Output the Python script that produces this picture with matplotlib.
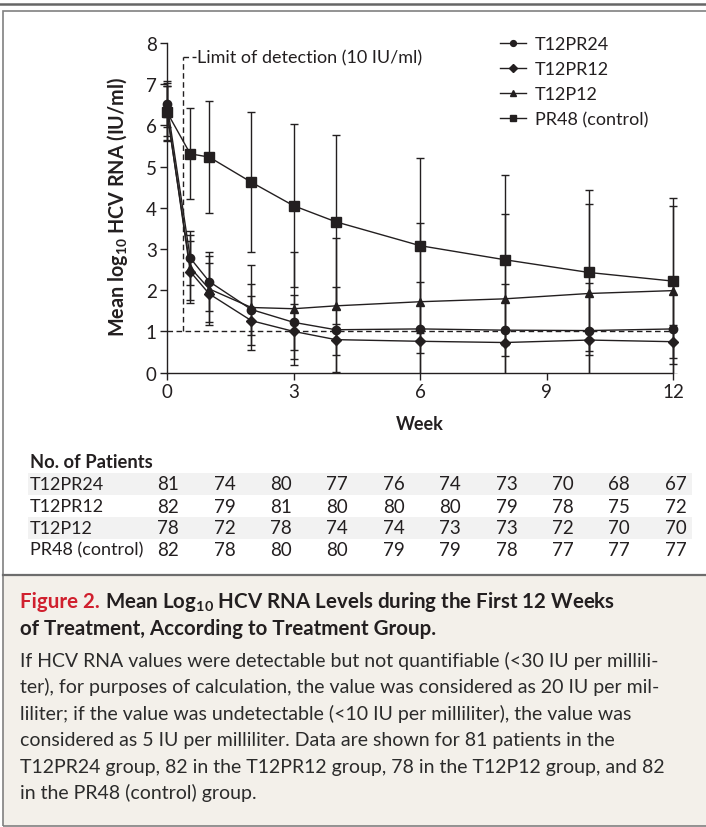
import matplotlib
matplotlib.use("Agg")
import matplotlib.pyplot as plt
from matplotlib.lines import Line2D
from matplotlib.patches import Rectangle
import numpy as np

# ---------------- data ----------------
weeks = [0, 0.55, 1, 2, 3, 4, 6, 8, 10, 12]
groups = ["T12PR24", "T12PR12", "T12P12", "PR48 (control)"]
markers = ["o", "D", "^", "s"]

t12pr24_mean = [6.52, 2.78, 2.21, 1.53, 1.22, 1.04, 1.06, 1.03, 1.02, 1.06]
t12pr24_sd   = [0.55, 0.66, 0.72, 0.62, 0.66, 1.03, 1.13, 1.13, 1.15, 1.10]
t12pr12_mean = [6.35, 2.45, 1.91, 1.26, 1.00, 0.80, 0.76, 0.73, 0.79, 0.75]
t12pr12_sd   = [0.60, 0.75, 0.75, 0.60, 0.67, 0.37, 0.28, 0.33, 0.26, 0.40]
t12p12_mean  = [6.30, 2.55, 2.03, 1.58, 1.55, 1.62, 1.72, 1.79, 1.92, 1.99]
t12p12_sd    = [0.65, 0.80, 0.80, 1.02, 1.37, 1.64, 1.91, 2.05, 2.17, 2.06]
pr48_mean    = [6.32, 5.31, 5.23, 4.62, 4.05, 3.66, 3.08, 2.74, 2.43, 2.22]
pr48_sd      = [0.70, 1.10, 1.36, 1.70, 1.98, 2.11, 2.13, 2.06, 2.01, 2.01]

limit_of_detection = 1.0
limit_label = "Limit of detection (10 IU/ml)"

yticks = [0, 1, 2, 3, 4, 5, 6, 7, 8]
xticks = [0, 3, 6, 9, 12]

patients_t12pr24 = [81, 74, 80, 77, 76, 74, 73, 70, 68, 67]
patients_t12pr12 = [82, 79, 81, 80, 80, 80, 79, 78, 75, 72]
patients_t12p12  = [78, 72, 78, 74, 74, 73, 73, 72, 70, 70]
patients_pr48    = [82, 78, 80, 80, 79, 79, 78, 77, 77, 77]

caption_title_red = "Figure 2."
caption_title_1 = r"Mean Log$_{\mathbf{10}}$ HCV RNA Levels during the First 12 Weeks"
caption_title_2 = "of Treatment, According to Treatment Group."
caption_body = [
    "If HCV RNA values were detectable but not quantifiable (<30 IU per millili-",
    "ter), for purposes of calculation, the value was considered as 20 IU per mil-",
    "liliter; if the value was undetectable (<10 IU per milliliter), the value was",
    "considered as 5 IU per milliliter. Data are shown for 81 patients in the",
    "T12PR24 group, 82 in the T12PR12 group, 78 in the T12P12 group, and 82",
    "in the PR48 (control) group.",
]

# ---------------- style ----------------
FONT = "Lato"
plt.rcParams["font.family"] = [FONT, "DejaVu Sans"]
plt.rcParams["mathtext.fontset"] = "custom"
plt.rcParams["mathtext.rm"] = FONT
plt.rcParams["mathtext.bf"] = FONT + ":bold"
INK = "#231f20"
W, H = 706, 828

fig = plt.figure(figsize=(W / 100, H / 100), dpi=100)

def fx(px):
    return px / W

def fy(py):
    return 1 - py / H

# ---------------- frame & background ----------------
fig.add_artist(Line2D([0, 1], [fy(5), fy(5)], color="#666666", lw=1.8, transform=fig.transFigure))
fig.add_artist(Rectangle((fx(3), fy(827)), fx(720) - fx(3), fy(12) - fy(827),
                         transform=fig.transFigure, fill=False, ec="#808080", lw=1.2))
fig.add_artist(Rectangle((fx(3), fy(827)), fx(720) - fx(3), fy(576) - fy(827),
                         transform=fig.transFigure, fc="#f3f0ea", ec="none", zorder=0))
fig.add_artist(Line2D([fx(3), 1], [fy(576), fy(576)], color="#6d6d6d", lw=1.6, transform=fig.transFigure))

# ---------------- axes ----------------
x_left_px, x_right_px = 158.6, 681.7
y_bot_px, y_top_px = 373.6, 31.6
ax = fig.add_axes([fx(x_left_px), fy(y_bot_px), (x_right_px - x_left_px) / W, (y_bot_px - y_top_px) / H])
ax.set_xlim(-0.2, 12.2)
ax.set_ylim(0, 8.3)
ax.set_facecolor("none")
for s in ["top", "right"]:
    ax.spines[s].set_visible(False)
ax.spines["left"].set_position(("data", 0))
ax.spines["left"].set_bounds(0, 8)
ax.spines["bottom"].set_bounds(0, 12)
for s in ["left", "bottom"]:
    ax.spines[s].set_linewidth(1.0)
    ax.spines[s].set_color(INK)
ax.set_yticks(yticks)
ax.set_xticks(xticks)
ax.tick_params(axis="both", direction="out", length=5, width=1.0, color=INK,
               labelsize=13.5, labelcolor=INK, pad=2.5)

# limit of detection
ax.plot([0, 12], [limit_of_detection, limit_of_detection], ls=(0, (4, 2.5)), color=INK, lw=1.0, zorder=1)
ax.plot([0.38, 0.38], [limit_of_detection, 7.65], ls=(0, (4, 2.5)), color=INK, lw=1.0, zorder=1)
ax.plot([0.38, 0.68], [7.65, 7.65], ls=(0, (4, 2.5)), color=INK, lw=1.0, zorder=1)
ax.text(0.7, 7.65, limit_label, fontsize=13, color=INK, va="center", ha="left")

series = [
    (t12pr24_mean, t12pr24_sd, "o", 6.0),
    (t12pr12_mean, t12pr12_sd, "D", 4.8),
    (t12p12_mean, t12p12_sd, "^", 6.0),
    (pr48_mean, pr48_sd, "s", 7.0),
]
for mean, sd, mk, ms in series:
    ax.errorbar(weeks, mean, yerr=sd, fmt=mk + "-", color=INK, ms=ms, lw=1.0,
                elinewidth=1.0, capsize=3.1, capthick=1.0, zorder=3)

handles = []
leg_ms = [4.2, 3.6, 4.5, 5.0]
for g, mk, m in zip(groups, markers, leg_ms):
    handles.append(Line2D([], [], color=INK, marker=mk, ms=m, lw=1.0, label=g))
leg = ax.legend(handles=handles, loc="upper left", bbox_to_anchor=(fx(500), fy(37)),
                bbox_transform=fig.transFigure, frameon=False, fontsize=13,
                handlelength=1.44, handletextpad=0.5, labelspacing=0.5,
                borderpad=0, borderaxespad=0)
for t in leg.get_texts():
    t.set_color(INK)

# axis labels
fig.text(fx(118), fy(207), r"Mean log$_{\mathbf{10}}$ HCV RNA (IU/ml)", rotation=90,
         ha="center", va="center", fontsize=14.2, fontweight="bold", color=INK)
fig.text(fx(420), fy(425), "Week", ha="center", va="center", fontsize=13,
         fontweight="bold", color=INK)

# ---------------- patients table ----------------
fig.text(fx(30), fy(463), "No. of Patients", ha="left", va="center", fontsize=13.2,
         fontweight="bold", color=INK)
row_y = [485, 507.5, 529, 550.5]
for i in (0, 2):
    fig.add_artist(Rectangle((fx(28), fy(row_y[i] + 11)), fx(692) - fx(28), 22 / H,
                             transform=fig.transFigure, fc="#f2f2f2", ec="none", zorder=0))
col_x = [168 + 56.4 * i for i in range(10)]
rows = [patients_t12pr24, patients_t12pr12, patients_t12p12, patients_pr48]
for g, yv, vals in zip(groups, row_y, rows):
    fig.text(fx(30), fy(yv), g, ha="left", va="center", fontsize=13, color=INK)
    for xv, v in zip(col_x, vals):
        fig.text(fx(xv), fy(yv), str(v), ha="center", va="center", fontsize=13.5, color=INK)

# ---------------- caption ----------------
t_red = fig.text(fx(20), fy(608), caption_title_red, ha="left", va="baseline", fontsize=14.8,
                 fontweight="bold", color="#d0202e")
fig.canvas.draw()
bb = t_red.get_window_extent()
fig.text((bb.x1 + 5) / W, fy(608), caption_title_1, ha="left", va="baseline", fontsize=14.8,
         fontweight="bold", color=INK)
fig.text(fx(20), fy(635), caption_title_2, ha="left", va="baseline", fontsize=14.8,
         fontweight="bold", color=INK)
for i, line in enumerate(caption_body):
    fig.text(fx(20), fy(667 + 26.5 * i), line, ha="left", va="baseline", fontsize=14,
             color="#2b2b2b")

fig.savefig("out.png", dpi=100)
